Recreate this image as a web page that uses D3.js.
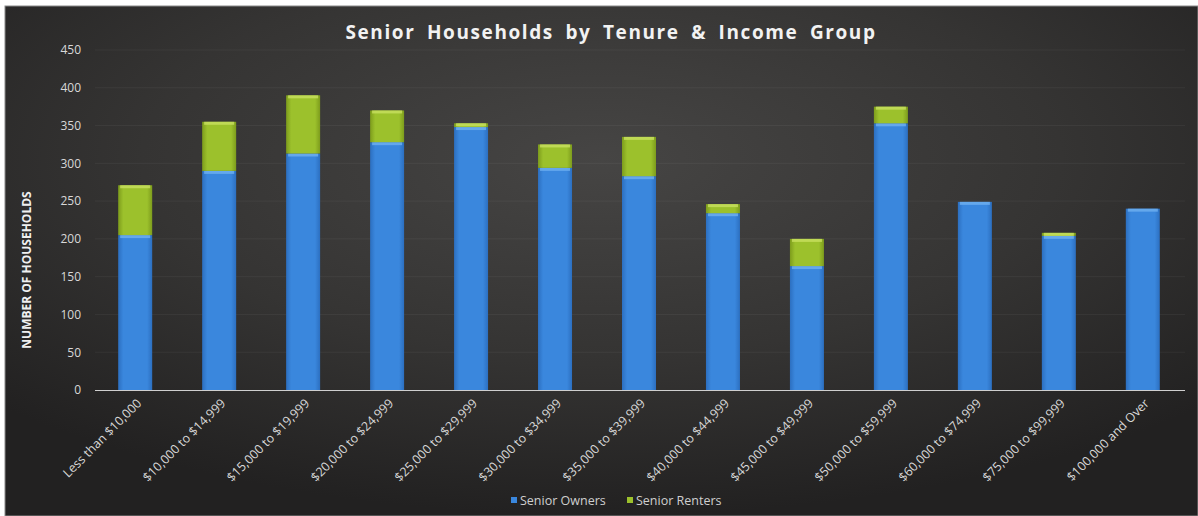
<!DOCTYPE html>
<html>
<head>
<meta charset="utf-8">
<script src="https://cdn.jsdelivr.net/npm/d3@7"></script>
<style>
  body { margin: 0; background: #fff; }
  svg { display: block; }
</style>
</head>
<body>
<div id="chart"></div>
<script>
// income groups and the two stacked series
var categories = ["Less than $10,000", "$10,000 to $14,999", "$15,000 to $19,999", "$20,000 to $24,999",
  "$25,000 to $29,999", "$30,000 to $34,999", "$35,000 to $39,999", "$40,000 to $44,999",
  "$45,000 to $49,999", "$50,000 to $59,999", "$60,000 to $74,999", "$75,000 to $99,999", "$100,000 and Over"];
var owners  = [205, 290, 313, 328, 348, 294, 283, 234, 164, 353, 249, 204, 240];
var renters = [66, 65, 77, 42, 5, 31, 52, 12, 36, 22, 0, 4, 0];
var seriesNames = ["Senior Owners", "Senior Renters"];
var yTicks = [0, 50, 100, 150, 200, 250, 300, 350, 400, 450];

var W = 1198, H = 516;
var svg = d3.select("#chart").append("svg").attr("width", W).attr("height", H);
var defs = svg.append("defs");

// background: dark panel with a lighter glow in the middle
var bg = defs.append("radialGradient").attr("id", "bg").attr("cx", "50%").attr("cy", "30%").attr("r", "70%");
bg.append("stop").attr("offset", "0%").attr("stop-color", "#464544");
bg.append("stop").attr("offset", "55%").attr("stop-color", "#353433");
bg.append("stop").attr("offset", "100%").attr("stop-color", "#222121");

svg.append("rect").attr("x", 5).attr("y", 6).attr("width", W - 5).attr("height", H - 6)
  .attr("fill", "url(#bg)").attr("stroke", "#8a8a8a").attr("stroke-width", 1);

// bar shading (darker edges, like a bevel)
function barGrad(id, edge, mid) {
  var g = defs.append("linearGradient").attr("id", id).attr("x1", "0%").attr("x2", "100%");
  g.append("stop").attr("offset", "0%").attr("stop-color", edge);
  g.append("stop").attr("offset", "15%").attr("stop-color", mid);
  g.append("stop").attr("offset", "85%").attr("stop-color", mid);
  g.append("stop").attr("offset", "100%").attr("stop-color", edge);
}
barGrad("gBlue", "#2c6fc0", "#3a87dd");
barGrad("gGreen", "#7d9c1c", "#9cc12c");

var x = d3.scaleBand().domain(categories).range([93, 1185]).paddingInner(0.595).paddingOuter(0.3);
var y = d3.scaleLinear().domain([0, 450]).range([390, 50]);

// faint gridlines
svg.append("g").selectAll("line").data(yTicks.slice(1)).enter().append("line")
  .attr("x1", 95).attr("x2", 1185)
  .attr("y1", function (d) { return y(d); }).attr("y2", function (d) { return y(d); })
  .attr("stroke", "#ffffff").attr("stroke-opacity", 0.05);

// y axis labels
var yAxis = svg.append("g").attr("transform", "translate(81,0)")
  .call(d3.axisLeft(y).tickValues(yTicks).tickSize(0).tickPadding(0));
yAxis.select(".domain").remove();
yAxis.selectAll("text").attr("fill", "#d8d8d8").style("font-family", "'Open Sans', sans-serif").style("font-size", "12px");

// stacked bars
var rows = categories.map(function (c, i) { return { cat: c, owners: owners[i], renters: renters[i] }; });
var stack = d3.stack().keys(["owners", "renters"])(rows);
var fills = ["url(#gBlue)", "url(#gGreen)"];
var tops = ["#6fb0f0", "#c8e060"];

stack.forEach(function (layer, k) {
  var g = svg.append("g");
  layer.forEach(function (d) {
    var h = y(d[0]) - y(d[1]);
    if (h <= 0) return;
    var bx = x(d.data.cat);
    g.append("rect").attr("x", bx).attr("y", y(d[1])).attr("width", x.bandwidth()).attr("height", h)
      .attr("fill", fills[k]);
    g.append("rect").attr("x", bx + 2).attr("y", y(d[1])).attr("width", x.bandwidth() - 4).attr("height", Math.min(3, h))
      .attr("fill", tops[k]).attr("opacity", 0.8);
  });
});

// x axis line
svg.append("line").attr("x1", 95).attr("x2", 1185).attr("y1", 390.5).attr("y2", 390.5)
  .attr("stroke", "#cfcfcf").attr("stroke-width", 1);

// x labels rotated
svg.append("g").selectAll("text").data(categories).enter().append("text")
  .attr("transform", function (d) { return "translate(" + (x(d) + x.bandwidth() / 2 + 4) + ",401) rotate(-45)"; })
  .attr("text-anchor", "end").attr("dy", "0.35em")
  .attr("fill", "#d8d8d8").style("font-family", "'Open Sans', sans-serif").style("font-size", "12.5px")
  .text(function (d) { return d; });

// title
svg.append("text").attr("x", 611).attr("y", 39).attr("text-anchor", "middle")
  .attr("fill", "#f2f2f2").style("font-family", "'Open Sans', sans-serif").style("font-weight", "bold")
  .style("font-size", "19px").style("letter-spacing", "1.6px").style("word-spacing", "5px")
  .text("Senior Households by Tenure & Income Group");

// y axis title
svg.append("text").attr("transform", "translate(31,270) rotate(-90)").attr("text-anchor", "middle")
  .attr("fill", "#f0f0f0").style("font-family", "'Open Sans', sans-serif").style("font-weight", "bold")
  .style("font-size", "12px").text("NUMBER OF HOUSEHOLDS");

// legend
var legendX = [511, 627];
var legendCol = ["#3a87dd", "#9cc12c"];
seriesNames.forEach(function (n, i) {
  svg.append("rect").attr("x", legendX[i]).attr("y", 497).attr("width", 6).attr("height", 6).attr("fill", legendCol[i]);
  svg.append("text").attr("x", legendX[i] + 9).attr("y", 505)
    .attr("fill", "#cfcfcf").style("font-family", "'Open Sans', sans-serif").style("font-size", "12.5px").text(n);
});
</script>
</body>
</html>
